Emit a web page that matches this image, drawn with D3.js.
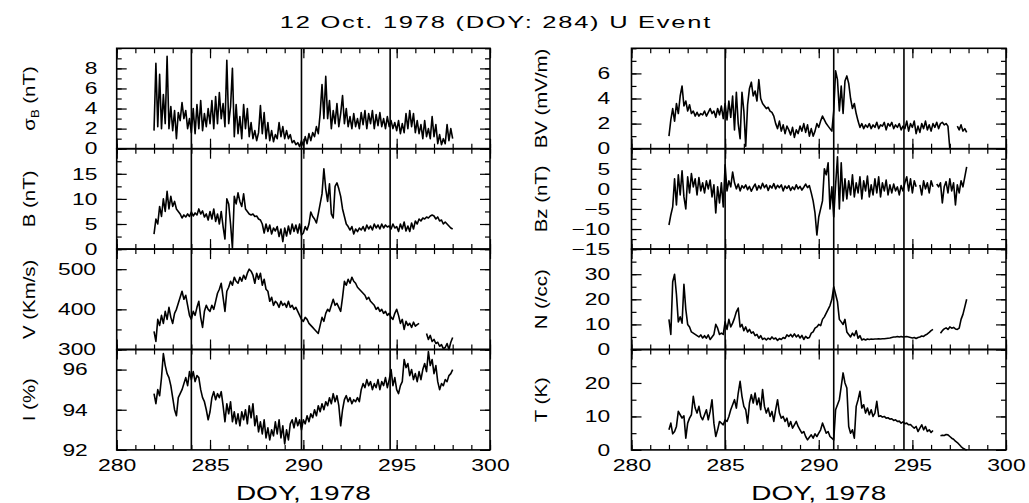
<!DOCTYPE html>
<html>
<head>
<meta charset="utf-8">
<script src="https://cdn.jsdelivr.net/npm/d3@7/dist/d3.min.js"></script>
<style>
  body { margin: 0; background: #fff; }
  text { font-family: "Liberation Sans", Arial, sans-serif; fill: #000; }
</style>
</head>
<body>
<svg id="chart" width="1029" height="503"></svg>
<script>
// samples every 0.1 day from DOY 282.0 to 298.0 (161 per series), null = data gap
const startDoy = 282
const stepDoy = 0.1

const sigmaB = [
  1.8, 8.5, 2.2, 7.4, 2.0, 5.4, 2.5, 9.2, 2.0, 4.2,
  1.8, 3.8, 1.0, 3.6, 2.8, 4.6, 3.0, 3.8, 2.0, 3.0,
  1.6, 4.0, 1.5, 4.4, 2.0, 4.8, 1.8, 3.5, 2.2, 4.0,
  2.5, 4.8, 2.0, 5.2, 2.5, 5.6, 3.0, 4.5, 2.2, 8.8,
  2.5, 4.2, 8.0, 1.2, 4.4, 1.5, 3.2, 1.0, 4.4, 2.0,
  4.0, 1.2, 2.6, 1.0, 1.8, 0.8, 1.6, 4.3, 1.5, 3.6,
  1.0, 2.6, 0.8, 1.8, 0.7, 1.4, 1.0, 2.6, 1.2, 2.2,
  1.0, 1.8, 1.0, 1.4, 0.6, 0.8, 0.4, 0.6, 0.2, 0.8,
  0.3, 1.2, 0.5, 1.5, 0.8, 1.6, 1.2, 2.2, 1.5, 3.5,
  6.4, 3.0, 7.2, 3.0, 4.8, 2.0, 3.8, 2.5, 4.5, 2.2,
  3.5, 5.3, 2.5, 4.0, 2.2, 3.2, 2.0, 3.5, 2.2, 3.0,
  2.0, 3.6, 2.4, 3.8, 2.0, 3.5, 2.5, 3.8, 2.0, 3.4,
  2.3, 3.6, 2.2, 3.0, 2.0, 3.2, 2.2, 2.8, 2.0, 2.6,
  1.8, 2.8, 1.5, 2.5, 1.6, 3.5, 2.0, 3.8, 2.2, 3.5,
  1.6, 2.8, 1.5, 2.4, 1.0, 2.8, 1.2, 2.0, 1.0, 3.2,
  1.2, 2.4, 0.5, 1.4, 0.4, 1.0, 0.5, 2.4, 0.8, 2.0,
  1.0
]

const bMag = [
  3.0, 6.0, 5.0, 8.5, 6.5, 10.0, 7.5, 11.5, 8.0, 10.5,
  8.5, 9.5, 8.0, 7.5, 7.0, 6.2, 6.8, 6.4, 7.0, 6.5,
  7.4, 6.6, 7.2, 6.8, 8.0, 7.0, 7.6, 6.4, 7.0, 5.8,
  7.5, 6.0, 8.0, 5.5, 7.0, 5.0, 7.5, 4.5, 2.0, 10.0,
  9.0, 5.0, 0.2, 10.5, 9.0, 11.2, 9.5, 8.5, 11.0, 8.0,
  7.5, 7.0, 6.8, 7.0, 6.5, 6.6, 6.0, 5.8, 5.0, 3.2,
  5.0, 3.5, 4.8, 3.0, 4.2, 3.6, 4.5, 2.5, 4.0, 1.5,
  4.2, 2.6, 4.6, 3.0, 5.0, 3.5, 4.8, 3.2, 5.0, 2.8,
  3.2, 4.5, 3.8, 5.0, 7.4, 6.5, 6.0, 5.2, 7.0, 9.0,
  11.0, 16.0, 12.0, 9.5, 13.0, 7.0, 6.2, 12.5, 13.2, 12.0,
  10.5, 8.0, 6.5, 5.0, 4.5, 3.8, 4.5, 3.0, 4.0, 3.5,
  4.2, 3.8, 4.5, 3.6, 4.8, 4.0, 4.6, 3.8, 5.0, 4.2,
  4.8, 4.0, 5.0, 4.2, 4.8, 4.4, 4.6, 4.0, 5.0, 4.2,
  4.5, 3.5, 5.0, 4.0, 5.4, 3.6, 4.6, 3.5, 5.2, 4.0,
  5.6, 5.0, 6.0, 5.6, 6.2, 6.0, 6.4, 6.2, 6.6, 6.8,
  6.6, 6.0, 6.4, 5.6, 5.8, 5.0, 5.4, 5.0, 4.6, 4.2,
  4.0
]

const vSw = [
  345, 320, 375, 360, 385, 365, 395, 375, 405, 380,
  365, 390, 400, 415, 430, 445, 425, 435, 410, 385,
  375, 395, 385, 405, 420, 380, 355, 395, 410, 400,
  395, 410, 400, 420, 440, 450, 465, 430, 395, 445,
  455, 470, 460, 480, 470, 465, 480, 470, 485, 475,
  490, 500, 495, 485, 465, 490, 475, 490, 460, 475,
  450, 445, 420, 430, 410, 420, 415, 405, 420, 410,
  415, 405, 420, 405, 410, 400, 405, 395, 385, 375,
  370, 380, 375, 365, 360, 355, 350, 345, 340, 360,
  380, 370, 390, 400, 395, 410, 425, 410, 415, 405,
  395, 430, 470, 460, 475, 465, 480, 470, 465, 455,
  450, 445, 440, 435, 425, 430, 420, 415, 410, 400,
  405, 395, 400, 390, 395, 385, 390, 380, 375, 390,
  400, 385, 365, 375, 350, 370, 360, 365, 355, 368,
  358, 362, 365, null, null, null, 340, 325, 335, 320,
  325, 315, 318, 308, 312, 302, 305, 315, 300, 318,
  330
]

const iPct = [
  94.8, 94.3, 95.0, 94.7, 95.6, 96.8, 96.2, 95.8, 95.6, 95.2,
  94.6, 94.0, 93.7, 94.6, 94.8, 95.0, 95.3, 95.6, 95.2, 95.9,
  95.5, 95.9, 95.4, 95.7, 95.6, 95.0, 94.6, 94.4, 94.0, 93.5,
  93.9, 94.6, 94.9, 94.5, 94.8, 94.6, 94.9, 94.2, 93.4, 94.3,
  93.8, 94.4, 93.4, 93.9, 93.3, 93.8, 93.2, 93.9, 93.5, 94.0,
  93.3, 94.2, 93.6, 94.3, 93.2, 93.7, 92.9, 93.4, 92.8, 93.5,
  92.6, 93.1, 92.5, 93.0, 92.7, 93.4, 92.8, 93.5, 92.6, 93.2,
  92.3, 93.0, 92.5, 93.3, 93.5, 93.1, 93.6, 93.2, 93.5, 93.0,
  93.5, 93.3, 93.7, 93.4, 93.8, 93.6, 94.0, 93.7, 94.2, 93.9,
  94.3, 94.0, 94.4, 94.2, 94.6, 94.3, 94.8, 94.4, 94.7, 94.2,
  93.2, 94.0, 94.5, 94.7, 94.4, 94.6, 94.3, 94.5, 94.4, 94.6,
  94.4, 95.0, 95.3, 95.1, 95.5, 95.2, 95.4, 95.0, 95.3, 95.1,
  95.5, 95.0, 95.4, 95.2, 95.6, 95.1, 95.5, 96.0, 95.2, 95.6,
  95.0, 94.8, 95.2, 95.4, 96.5, 96.1, 96.3, 95.7, 96.0, 95.5,
  95.8, 95.4, 95.9, 95.5, 96.0, 96.3, 95.9, 96.9, 96.2, 96.5,
  95.8, 96.2, 95.4, 95.0, 95.3, 95.2, 95.5, 95.4, 95.7, 95.8,
  96.0
]

const bvField = [
  1.0, 2.3, 3.2, 2.2, 3.6, 2.8, 4.2, 5.0, 3.4, 3.8,
  3.0, 3.5, 2.8, 3.0, 2.6, 2.9, 2.6, 2.8, 2.7, 3.0,
  2.6, 2.9, 3.2, 2.8, 3.0, 2.5, 3.2, 2.7, 3.4, 2.4,
  3.6, 2.3, 3.8, 2.5, 4.2, 1.5, 4.5, 2.0, 0.8, 4.5,
  3.0, 0.2, 3.5, 4.8, 5.3, 4.2, 4.6, 3.8, 5.5, 4.0,
  3.6, 3.4, 3.2, 3.3, 3.0, 2.9, 2.6, 2.0, 1.6, 2.2,
  1.4, 1.9, 1.2, 1.8, 1.5, 1.1, 1.7, 0.9, 1.5, 1.2,
  1.8, 1.4, 2.0, 1.3, 1.9, 1.0, 1.6, 1.0, 1.4, 2.0,
  1.7, 2.2, 2.6, 2.3, 2.0, 1.8, 1.6, 1.4, 3.0, 6.2,
  5.5, 3.0, 5.0, 2.8, 5.4, 5.8, 5.2, 4.0, 3.2, 3.6,
  2.8, 2.2, 1.7, 2.0, 1.6, 1.9, 1.7, 2.0, 1.6, 1.9,
  1.7, 2.1, 1.6, 1.9, 1.8, 2.1, 1.5, 2.0, 1.8, 2.1,
  1.6, 1.9, 1.7, 2.0, 1.5, 1.8, 1.6, 2.2, 1.4, 2.0,
  1.7, 2.2, 1.2, 1.8, 1.3, 2.0, 1.6, 2.2, 1.5, 1.9,
  1.4, 2.0, 1.7, 2.1, 1.6, 2.0, 2.1, 1.9, 2.0, 1.8,
  0.0, null, null, null, 1.8, 1.5, 1.9, 1.4, 1.6, 1.3,
  null
]

const bz = [
  -9.0, -6.5, -4.5, 2.5, -4.0, 3.5, -1.5, 4.5, -2.0, -5.0,
  3.0, -1.0, 3.8, 0.5, 2.5, -1.5, 2.8, -0.5, 1.5, -1.0,
  2.0, 0.0, 2.2, -2.0, 1.0, -6.0, 0.5, -3.5, 1.5, -4.5,
  6.0, -0.5, 2.0, 0.5, 4.2, 1.5, 0.0, 1.2, -0.5, 0.8,
  0.2, 1.0, -0.2, 0.6, -0.6, 0.4, 1.2, -0.3, 0.8, 0.0,
  1.4, 0.3, 1.0, -0.4, 0.8, 0.2, 1.3, 0.0, 0.9, 0.3,
  1.0, -0.5, 0.7, 0.1, 0.8, -0.4, 0.5, -0.2, 1.0, 0.0,
  0.6, -0.3, 0.4, 1.2, 0.3, 0.8, -1.0, -3.0, -6.0, -11.5,
  -7.0, -5.0, -3.0, 5.0, 3.5, 6.5, -5.0, 0.5, -7.0, 1.0,
  8.0, -5.0, 6.5, -3.0, 2.5, -2.5, 2.0, -1.5, 3.5, -2.0,
  1.5, -1.0, 3.0, -2.5, 2.0, -0.5, 3.2, -2.0, 1.0, -1.5,
  2.5, -1.0, 3.0, -2.0, 1.5, -0.5, 2.2, -1.5, 1.0, -1.0,
  1.2, -0.5, 0.5, -1.5, 0.8, -0.5, 1.5, 3.0, -0.5, 2.5,
  -1.0, 2.0, 0.5, null, 1.0, -1.5, 2.0, 0.0, 1.5, -1.0,
  2.0, 0.5, null, 1.2, 0.5, 1.5, -3.5, 0.5, 1.8, -1.0,
  2.5, -0.5, 1.5, -4.0, 1.0, -1.0, 2.0, 0.5, 3.0, 5.5,
  null
]

const nDen = [
  12.0, 6.0, 27.0, 30.0, 22.0, 11.0, 13.0, 10.5, 26.0, 16.0,
  10.0, 9.0, 7.0, 6.5, 6.0, 5.5, 5.0, 5.8, 4.6, 5.5,
  4.5, 5.8, 4.0, 5.0, 6.0, 10.0, 8.5, 6.0, 6.5, 6.0,
  11.0, 8.0, 12.0, 9.0, 10.5, 12.5, 15.0, 16.5, 9.0, 10.0,
  7.5, 9.0, 7.0, 8.0, 6.5, 7.0, 5.5, 6.0, 4.5, 5.5,
  4.0, 4.5, 3.8, 4.5, 4.0, 5.0, 4.2, 4.6, 3.6, 4.4,
  4.0, 4.8, 4.4, 5.8, 5.2, 6.0, 5.0, 6.2, 5.0, 5.8,
  4.6, 5.6, 4.0, 5.2, 4.5, 4.8, 6.5, 7.0, 8.5, 9.0,
  10.0, 9.5, 12.0, 13.0, 14.5, 16.0, 17.5, 20.0, 25.0, 22.0,
  19.0, 12.0, 11.0, 10.0, 12.0, 7.0, 6.0, 5.0, 6.5, 5.5,
  7.5, 4.5, 5.5, 3.8, 4.2, 3.8, 4.2, 4.0, 4.2, 4.1,
  4.2, 4.2, 4.3, 4.2, 4.3, 4.3, 4.4, 4.5, 4.6, 4.8,
  5.0, 5.0, 5.2, 5.0, 5.2, 5.0, 5.1, 5.2, 5.0, 4.8,
  4.6, 4.8, 4.4, 4.8, 5.0, 5.4, 5.2, 5.8, 6.2, 6.8,
  7.5, 8.0, null, null, null, 6.5, 7.5, 8.2, 8.6, 8.0,
  9.0, 8.5, 8.8, 8.2, 8.0, 8.5, 12.0, 14.0, 17.0, 20.0,
  null
]

const tTemp = [
  6.0, 8.0, 4.8, 5.5, 7.0, 11.5, 10.5, 9.5, 10.2, 3.5,
  8.0, 9.5, 10.5, 16.0, 12.5, 11.0, 13.0, 10.0, 9.0, 10.5,
  12.0, 9.0, 11.5, 15.0, 8.0, 4.0, 6.0, 8.5, 8.0, 7.5,
  9.0, 8.5, 10.0, 12.0, 13.5, 15.0, 12.5, 17.0, 20.5, 16.0,
  13.0, 12.0, 8.0, 14.0, 16.5, 14.0, 17.0, 13.5, 15.5, 12.0,
  18.0, 13.0, 11.0, 12.5, 10.0, 11.5, 8.5, 12.0, 15.0, 11.0,
  9.5, 10.0, 8.5, 9.5, 7.0, 8.5, 6.5, 7.5, 8.5, 7.0,
  6.0, 5.0, 5.5, 4.0, 3.0, 3.8, 4.5, 3.5, 4.8, 4.0,
  5.0, 6.0, 8.0, 6.5, 5.0, 5.5, 4.0, 3.5, 3.0, 12.0,
  13.5, 15.0, 19.0, 23.0, 20.0, 18.5, 7.0, 5.0, 6.0, 3.5,
  13.0, 15.0, 17.5, 12.5, 13.5, 11.0, 12.5, 10.5, 12.0, 10.0,
  11.0, 14.5, 10.0, 10.2, 9.8, 10.0, 9.5, 9.6, 9.2, 9.3,
  8.8, 9.0, 8.5, 8.6, 8.0, 8.4, 7.8, 8.0, 7.5, 7.6,
  7.0, 6.5, 7.0, 5.5, 6.5, 7.5, 6.0, 7.0, 5.5, 6.0,
  5.2, 5.8, null, null, null, 4.2, 4.4, 4.3, 4.6, 4.5,
  4.0, 3.5, 3.2, 2.6, 2.2, 1.6, 1.0, 0.5, 0.2, 0.0,
  null
]

// axis ranges and tick labels
const doyDomain = [280, 300]
const doyTicks = [280, 285, 290, 295, 300]
const sigmaBDomain = [0, 10], sigmaBTicks = [0, 2, 4, 6, 8]
const bMagDomain = [0, 20], bMagTicks = [0, 5, 10, 15]
const vSwDomain = [300, 550], vSwTicks = [300, 400, 500]
const iPctDomain = [92, 97], iPctTicks = [92, 94, 96]
const bvDomain = [0, 8], bvTicks = [0, 2, 4, 6]
const bzDomain = [-15, 10], bzTicks = [-15, -10, -5, 0, 5]
const nDenDomain = [0, 40], nDenTicks = [0, 10, 20, 30]
const tTempDomain = [0, 30], tTempTicks = [0, 10, 20]

// event marker days
const leftEvents = [284.0, 289.9, 294.65]
const rightEvents = [285.0, 290.8, 294.55]

const titleText = "12 Oct. 1978 (DOY: 284) U Event"
const xTitle = "DOY, 1978"

const svg = d3.select("#chart")
const TOP = 48.3
const PH = 100.4

const leftPanels = [
  { values: sigmaB, domain: sigmaBDomain, ticks: sigmaBTicks, minor: 1, label: ["σ", "B", " (nT)"], pad: 14 },
  { values: bMag, domain: bMagDomain, ticks: bMagTicks, minor: 2.5, label: ["B (nT)"], pad: 14 },
  { values: vSw, domain: vSwDomain, ticks: vSwTicks, minor: 50, label: ["V (Km/s)"], pad: 15 },
  { values: iPct, domain: iPctDomain, ticks: iPctTicks, minor: 1, label: ["I (%)"], pad: 21 }
]
const rightPanels = [
  { values: bvField, domain: bvDomain, ticks: bvTicks, minor: 1, label: ["BV (mV/m)"], pad: 15.5 },
  { values: bz, domain: bzDomain, ticks: bzTicks, minor: 2.5, label: ["Bz (nT)"], pad: 15.5 },
  { values: nDen, domain: nDenDomain, ticks: nDenTicks, minor: 5, label: ["N (/cc)"], pad: 15.5 },
  { values: tTemp, domain: tTempDomain, ticks: tTempTicks, minor: 5, label: ["T (K)"], pad: 15.5 }
]

function cleanAxis(g) {
  g.select(".domain").remove()
  g.selectAll("line").attr("stroke", "#000").attr("stroke-width", 1.2)
  g.attr("font-family", null).attr("font-size", null)
}

function drawColumn(x0, x1, panels, events, labelX) {
  const x = d3.scaleLinear().domain(doyDomain).range([x0, x1])
  const col = svg.append("g")
  const minorDays = d3.range(doyDomain[0], doyDomain[1] + 1, 1)
  const majorDays = minorDays.filter(d => d % 5 === 0)

  panels.forEach(function (p, k) {
    const top = TOP + k * PH
    const bot = top + PH
    const y = d3.scaleLinear().domain(p.domain).range([bot, top])
    const g = col.append("g")

    // data line
    const line = d3.line()
      .defined(d => d != null)
      .x((d, i) => x(startDoy + i * stepDoy))
      .y(d => y(d))
    g.append("path")
      .datum(p.values)
      .attr("d", line)
      .attr("fill", "none")
      .attr("stroke", "#000")
      .attr("stroke-width", 1.6)
      .attr("stroke-linejoin", "round")

    // y ticks, both sides, pointing in
    const minorY = d3.range(p.domain[0], p.domain[1] + 1e-9, p.minor)
    g.append("g").attr("transform", `translate(${x0},0)`)
      .call(d3.axisLeft(y).tickValues(minorY).tickSize(-5).tickFormat(""))
      .call(cleanAxis)
    g.append("g").attr("transform", `translate(${x1},0)`)
      .call(d3.axisRight(y).tickValues(minorY).tickSize(-5).tickFormat(""))
      .call(cleanAxis)
    g.append("g").attr("transform", `translate(${x1},0)`)
      .call(d3.axisRight(y).tickValues(p.ticks).tickSize(-10).tickFormat(""))
      .call(cleanAxis)
    const yl = g.append("g").attr("transform", `translate(${x0},0)`)
      .call(d3.axisLeft(y).tickValues(p.ticks).tickSize(-10).tickPadding(p.pad).tickFormat(d3.format("d")))
      .call(cleanAxis)
    yl.selectAll(".tick text")
      .attr("font-size", 16.5)
      .attr("transform", "scale(1.38,1)")

    // x ticks at top and bottom, pointing in
    g.append("g").attr("transform", `translate(0,${top})`)
      .call(d3.axisTop(x).tickValues(minorDays).tickSize(-5).tickFormat(""))
      .call(cleanAxis)
    g.append("g").attr("transform", `translate(0,${top})`)
      .call(d3.axisTop(x).tickValues(majorDays).tickSize(-10).tickFormat(""))
      .call(cleanAxis)
    g.append("g").attr("transform", `translate(0,${bot})`)
      .call(d3.axisBottom(x).tickValues(minorDays).tickSize(-5).tickFormat(""))
      .call(cleanAxis)
    const xb = g.append("g").attr("transform", `translate(0,${bot})`)
      .call(d3.axisBottom(x).tickValues(k === panels.length - 1 ? doyTicks : majorDays)
        .tickSize(-10).tickPadding(9)
        .tickFormat(k === panels.length - 1 ? d3.format("d") : ""))
      .call(cleanAxis)
    xb.selectAll(".tick text")
      .attr("font-size", 17)
      .attr("transform", "scale(1.35,1)")

    // frame
    g.append("rect")
      .attr("x", x0).attr("y", top)
      .attr("width", x1 - x0).attr("height", PH)
      .attr("fill", "none")
      .attr("stroke", "#000")
      .attr("stroke-width", 1.6)

    // rotated y title
    const t = g.append("text")
      .attr("transform", `translate(${labelX},${(top + bot) / 2}) rotate(-90) scale(1.2,1)`)
      .attr("text-anchor", "middle")
      .attr("dy", "0.35em")
      .attr("font-size", 17)
    if (p.label.length === 3) {
      t.append("tspan").text(p.label[0])
      t.append("tspan").attr("font-size", 11).attr("dy", 4).text(p.label[1])
      t.append("tspan").attr("dy", -4).text(p.label[2])
    } else {
      t.text(p.label[0])
    }
  })

  // event lines through all panels
  col.selectAll("line.event")
    .data(events)
    .join("line")
    .attr("class", "event")
    .attr("x1", d => x(d)).attr("x2", d => x(d))
    .attr("y1", TOP).attr("y2", TOP + panels.length * PH)
    .attr("stroke", "#000")
    .attr("stroke-width", 1.6)

  // x title
  col.append("text")
    .attr("transform", `translate(${(x0 + x1) / 2},499.5) scale(1.4,1)`)
    .attr("text-anchor", "middle")
    .attr("font-size", 20)
    .text(xTitle)
}

drawColumn(116.7, 490, leftPanels, leftEvents, 29)
drawColumn(631.5, 1006, rightPanels, rightEvents, 541)

svg.append("text")
  .attr("transform", "translate(495,28) scale(1.5,1)")
  .attr("text-anchor", "middle")
  .attr("font-size", 17)
  .attr("textLength", 287)
  .attr("lengthAdjust", "spacing")
  .text(titleText)
</script>
</body>
</html>
